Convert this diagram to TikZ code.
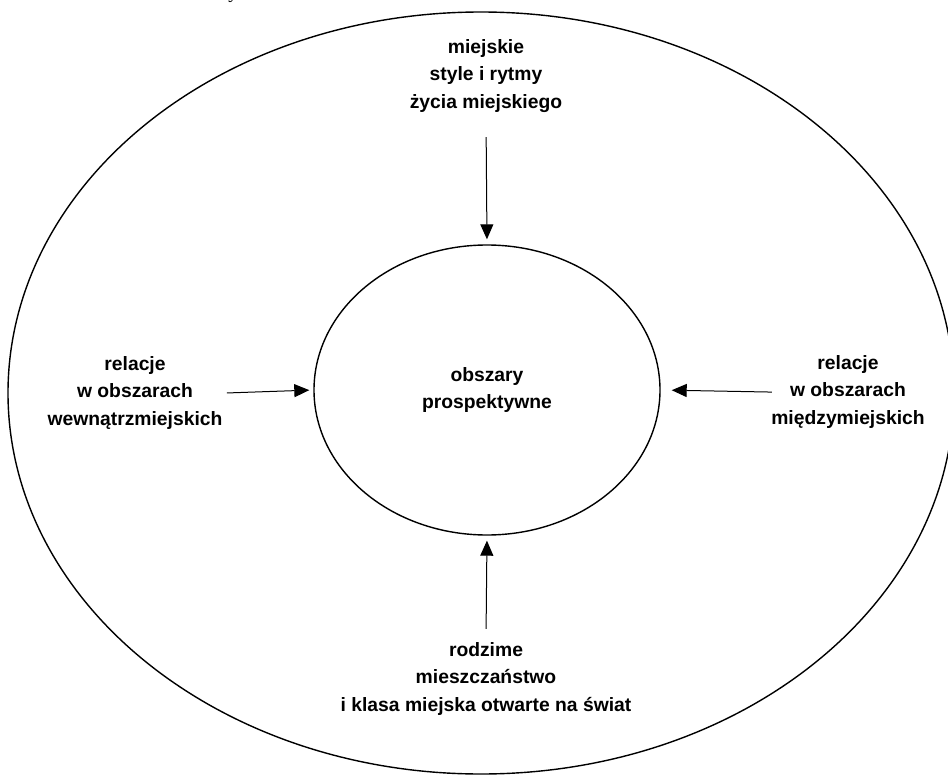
\documentclass[tikz,border=0pt]{standalone}
\usepackage{fontspec}
\setmainfont{Liberation Sans}
\newfontfamily\serifpart{Liberation Serif}
\usetikzlibrary{arrows.meta,shapes.geometric}

\begin{document}
\begin{tikzpicture}[
  x=1pt, y=-1pt,
  >={Triangle[length=15pt,width=13pt]},
  ring/.style={ellipse, draw=black, line width=1.4pt, inner sep=0pt},
  label/.style={align=center, font=\fontsize{19.3}{27.5}\selectfont\bfseries},
  flow/.style={->, line width=1pt, draw=black}
]
\useasboundingbox (0,0) rectangle (948,776);

\node[ring, minimum width=946pt, minimum height=762pt] (outer) at (481,393) {};
\node[ring, minimum width=346pt, minimum height=290pt, label] (core) at (487,390) {obszary\\prospektywne};

\node[label] (top)    at (486,76)  {miejskie\\style i rytmy\\życia miejskiego};
\node[label] (left)   at (135,393) {relacje\\w obszarach\\wewnątrzmiejskich};
\node[label] (right)  at (848,392) {relacje\\w obszarach\\międzymiejskich};
\node[label] (bottom) at (486,679) {rodzime\\mieszczaństwo\\i klasa miejska otwarte na świat};

% fragment of the line above the figure
\node[font=\serifpart\fontsize{19}{22}\selectfont, anchor=base] (cut) at (233,-1) {y};

\draw[flow, shorten <=21pt, shorten >=5pt]  (top.south)    -- (core.north);
\draw[flow, shorten <=10pt, shorten >=5pt]  (bottom.north) -- (core.south);
\draw[flow, shorten <=1pt, shorten >=4pt]   (left.east)    -- (core.west);
\draw[flow, shorten <=-4pt, shorten >=11pt] (right.west)   -- (core.east);
\end{tikzpicture}
\end{document}
